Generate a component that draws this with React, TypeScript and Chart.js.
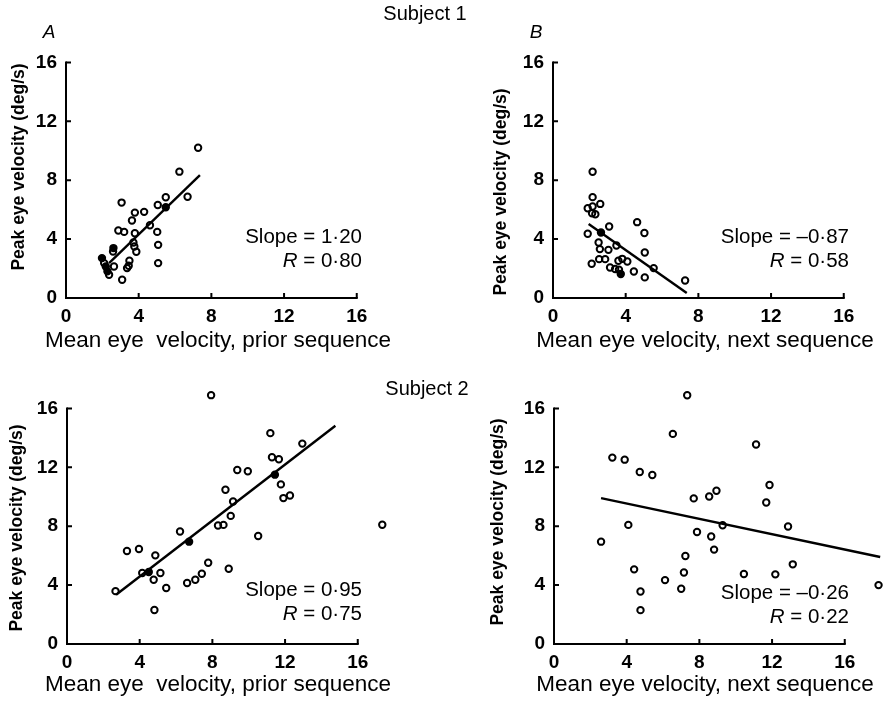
import React, { useEffect, useRef } from "react";
import { Chart, registerables } from "chart.js";

Chart.register(...registerables);

// ---------- data ----------
const AXIS_TICKS = [0, 4, 8, 12, 16];

// Panel A: Subject 1, prior sequence
const A_X = [7.27, 6.24, 6.69, 5.49, 5.05, 5.49, 3.06, 4.3, 3.79, 3.63, 4.62, 2.88, 3.2, 3.79, 5.02, 3.71, 5.07, 3.76, 3.87, 2.61, 2.59, 3.49, 1.98, 5.07, 3.36, 3.45, 2.19, 2.28, 2.37, 2.64, 3.09, 2.1];
const A_Y = [10.2, 8.58, 6.88, 6.84, 6.32, 6.16, 6.48, 5.85, 5.8, 5.26, 4.94, 4.58, 4.49, 4.4, 4.49, 3.77, 3.61, 3.5, 3.14, 3.39, 3.16, 2.53, 2.71, 2.37, 2.03, 2.19, 2.14, 1.81, 1.58, 2.14, 1.24, 2.37];
const A_FILLED = [5, 19, 22, 26, 27];
const A_LINE_X = [2.37, 7.37];
const A_LINE_Y = [2.37, 8.35];

// Panel B: Subject 1, next sequence
const B_X = [2.18, 2.18, 1.91, 2.18, 2.6, 2.15, 2.33, 1.91, 2.64, 3.09, 4.63, 5.03, 5.05, 2.51, 2.58, 3.05, 3.49, 2.13, 2.54, 2.87, 3.14, 3.42, 3.6, 3.81, 4.09, 3.63, 3.73, 4.45, 5.05, 5.54, 7.27];
const B_Y = [8.57, 6.85, 6.1, 6.21, 6.39, 5.76, 5.69, 4.36, 4.45, 4.86, 5.15, 4.41, 3.09, 3.77, 3.32, 3.27, 3.57, 2.33, 2.64, 2.64, 2.07, 1.97, 2.53, 2.66, 2.48, 1.92, 1.63, 1.8, 1.4, 2.03, 1.19];
const B_FILLED = [8, 26];
const B_LINE_X = [1.96, 7.36];
const B_LINE_Y = [5.02, 0.34];

// Panel C: Subject 2, prior sequence
const C_X = [2.67, 3.3, 3.96, 4.14, 4.5, 4.86, 4.77, 5.14, 4.81, 5.46, 6.61, 7.06, 7.42, 7.77, 6.22, 6.72, 8.9, 10.52, 8.31, 8.61, 9.01, 9.14, 8.72, 9.37, 9.95, 7.93, 11.19, 11.28, 11.66, 11.44, 11.77, 11.91, 12.27, 12.95, 17.35];
const C_Y = [3.59, 6.32, 6.45, 4.82, 4.89, 6.02, 4.36, 4.82, 2.31, 3.8, 4.14, 4.36, 4.77, 5.52, 7.64, 6.95, 5.11, 7.34, 8.05, 8.09, 8.7, 9.68, 10.48, 11.82, 11.73, 16.9, 14.32, 12.68, 12.55, 11.5, 10.84, 9.91, 10.09, 13.61, 8.1];
const C_FILLED = [4, 15, 29];
const C_LINE_X = [2.7, 14.77];
const C_LINE_Y = [3.34, 14.82];

// Panel D: Subject 2, next sequence
const D_X = [2.59, 3.21, 3.89, 4.09, 4.41, 4.72, 4.76, 4.76, 5.41, 6.11, 6.54, 7.33, 7.69, 7.87, 7.0, 7.15, 7.23, 8.54, 8.94, 8.65, 8.81, 9.28, 10.45, 11.12, 11.68, 11.86, 12.18, 12.88, 13.14, 17.86];
const D_Y = [6.95, 12.66, 12.52, 8.09, 5.07, 11.68, 3.57, 2.3, 11.48, 4.34, 14.27, 16.89, 9.89, 7.61, 3.75, 4.86, 5.98, 10.02, 10.41, 7.3, 6.41, 8.07, 4.75, 13.55, 9.61, 10.8, 4.73, 7.98, 5.41, 4.0];
const D_FILLED: number[] = [];
const D_LINE_X = [2.59, 17.95];
const D_LINE_Y = [9.91, 5.91];

const Y_TITLE = "Peak eye velocity (deg/s)";
const X_TITLE_PRIOR = "Mean eye  velocity, prior sequence";
const X_TITLE_NEXT = "Mean eye velocity, next sequence";

// ---------- layout constants ----------
const FONT = "'Liberation Sans', Arial, Helvetica, sans-serif";
const CW = 400;
const CH = 344;
const Y_AXIS_W = 66;
const X_AXIS_H = 46;
const PAD_TOP = 34;
const X_MAX = 18.05;
const Y_MAX = 17.93;

const axesPlugin = {
  id: "customAxes",
  beforeDatasetsDraw(chart: any) {
    const { ctx } = chart;
    const xs = chart.scales.x;
    const ys = chart.scales.y;
    const last = AXIS_TICKS[AXIS_TICKS.length - 1];
    const X0 = Math.round(xs.getPixelForValue(0));
    const XE = xs.getPixelForValue(last);
    const Y0 = Math.round(ys.getPixelForValue(0));
    const YE = ys.getPixelForValue(last);
    ctx.save();
    ctx.strokeStyle = "#000";
    ctx.lineWidth = 2;
    ctx.lineCap = "square";
    ctx.beginPath();
    ctx.moveTo(X0, YE);
    ctx.lineTo(X0, Y0);
    ctx.lineTo(XE, Y0);
    ctx.stroke();
    ctx.lineCap = "butt";
    ctx.beginPath();
    AXIS_TICKS.forEach((v) => {
      if (v === 0) return;
      const px = xs.getPixelForValue(v);
      ctx.moveTo(px, Y0);
      ctx.lineTo(px, Y0 - 5);
      const py = ys.getPixelForValue(v);
      ctx.moveTo(X0, py);
      ctx.lineTo(X0 + 5, py);
    });
    ctx.stroke();
    ctx.restore();
  },
};

type PanelProps = {
  left: number;
  top: number;
  xs: number[];
  ys: number[];
  filled: number[];
  lineX: number[];
  lineY: number[];
};

function Panel({ left, top, xs, ys, filled, lineX, lineY }: PanelProps) {
  const ref = useRef<HTMLCanvasElement>(null);
  useEffect(() => {
    if (!ref.current) return;
    const pts = xs.map((x, i) => ({ x, y: ys[i] }));
    const linePts = lineX.map((x, i) => ({ x, y: lineY[i] }));
    const bg = xs.map((_, i) => (filled.includes(i) ? "#000" : "rgba(0,0,0,0)"));
    const tickFont = { family: FONT, size: 19, weight: "bold" as const };
    const chart = new Chart(ref.current, {
      type: "scatter",
      data: {
        datasets: [
          {
            type: "line",
            data: linePts,
            borderColor: "#000",
            borderWidth: 2.4,
            pointRadius: 0,
            fill: false,
            clip: false as any,
            order: 2,
          } as any,
          {
            data: pts,
            pointRadius: 3.2,
            pointBorderWidth: 2,
            pointBorderColor: "#000",
            pointBackgroundColor: bg,
            clip: false as any,
            order: 1,
          },
        ],
      },
      options: {
        animation: false,
        responsive: false,
        devicePixelRatio: 1,
        layout: { padding: { top: PAD_TOP, left: 0, right: 0, bottom: 0 } },
        plugins: { legend: { display: false }, tooltip: { enabled: false } },
        scales: {
          x: {
            type: "linear",
            min: 0,
            max: X_MAX,
            grid: { display: false, drawTicks: false },
            border: { display: false },
            afterBuildTicks: (s: any) => {
              s.ticks = AXIS_TICKS.map((v) => ({ value: v }));
            },
            afterFit: (s: any) => {
              s.height = X_AXIS_H;
            },
            ticks: { padding: 7, color: "#000", font: tickFont, maxRotation: 0, autoSkip: false },
          },
          y: {
            type: "linear",
            min: 0,
            max: Y_MAX,
            grid: { display: false, drawTicks: false },
            border: { display: false },
            afterBuildTicks: (s: any) => {
              s.ticks = AXIS_TICKS.map((v) => ({ value: v }));
            },
            afterFit: (s: any) => {
              s.width = Y_AXIS_W;
            },
            ticks: { padding: 9, color: "#000", font: tickFont, autoSkip: false },
          },
        },
      },
      plugins: [axesPlugin],
    });
    return () => chart.destroy();
  }, []);
  return (
    <canvas
      ref={ref}
      width={CW}
      height={CH}
      style={{ position: "absolute", left, top, width: CW, height: CH }}
    />
  );
}

type TProps = {
  x: number;
  y: number; // baseline
  size: number;
  align?: "left" | "center" | "right";
  bold?: boolean;
  italic?: boolean;
  children: React.ReactNode;
  spacing?: number;
};

function T({ x, y, size, align = "left", bold, italic, children, spacing }: TProps) {
  const tx = align === "center" ? "-50%" : align === "right" ? "-100%" : "0";
  return (
    <div
      style={{
        position: "absolute",
        left: x,
        top: y - 0.8465 * size,
        fontFamily: FONT,
        fontSize: size,
        lineHeight: 1,
        fontWeight: bold ? "bold" : "normal",
        fontStyle: italic ? "italic" : "normal",
        whiteSpace: "pre",
        letterSpacing: spacing ?? 0,
        transform: `translateX(${tx})`,
        color: "#000",
      }}
    >
      {children}
    </div>
  );
}

function YTitle({ cx, cy }: { cx: number; cy: number }) {
  return (
    <div
      style={{
        position: "absolute",
        left: cx,
        top: cy,
        fontFamily: FONT,
        fontSize: 17.5,
        fontWeight: "bold",
        lineHeight: 1,
        whiteSpace: "pre",
        transform: "translate(-50%, -50%) rotate(-90deg)",
        color: "#000",
      }}
    >
      {Y_TITLE}
    </div>
  );
}

function Stats({ right, base, slope, r }: { right: number; base: number; slope: string; r: string }) {
  return (
    <>
      <T x={right} y={base} size={20.5} align="right">
        {"Slope = " + slope}
      </T>
      <T x={right} y={base + 24} size={20.5} align="right">
        <i>R</i>
        {" = " + r}
      </T>
    </>
  );
}

export default function App() {
  return (
    <div
      style={{
        position: "absolute",
        left: 0,
        top: 0,
        width: 889,
        height: 703,
        overflow: "hidden",
        background: "#fff",
      }}
    >
      <Panel left={0} top={0} xs={A_X} ys={A_Y} filled={A_FILLED} lineX={A_LINE_X} lineY={A_LINE_Y} />
      <Panel left={487} top={0} xs={B_X} ys={B_Y} filled={B_FILLED} lineX={B_LINE_X} lineY={B_LINE_Y} />
      <Panel left={1} top={346} xs={C_X} ys={C_Y} filled={C_FILLED} lineX={C_LINE_X} lineY={C_LINE_Y} />
      <Panel left={488} top={346} xs={D_X} ys={D_Y} filled={D_FILLED} lineX={D_LINE_X} lineY={D_LINE_Y} />

      <T x={425} y={20} size={20} align="center">Subject 1</T>
      <T x={427} y={395} size={20} align="center">Subject 2</T>
      <T x={49} y={38} size={19} align="center" italic>A</T>
      <T x={536} y={38} size={19} align="center" italic>B</T>

      <YTitle cx={19} cy={167} />
      <YTitle cx={501} cy={192} />
      <YTitle cx={17} cy={528} />
      <YTitle cx={498} cy={522} />

      <T x={218} y={348} size={22.5} align="center">{X_TITLE_PRIOR}</T>
      <T x={705} y={348} size={22.5} align="center">{X_TITLE_NEXT}</T>
      <T x={218} y={692} size={22.5} align="center">{X_TITLE_PRIOR}</T>
      <T x={705} y={692} size={22.5} align="center">{X_TITLE_NEXT}</T>

      <Stats right={362} base={243} slope={"1·20"} r={"0·80"} />
      <Stats right={849} base={243} slope={"–0·87"} r={"0·58"} />
      <Stats right={362} base={596} slope={"0·95"} r={"0·75"} />
      <Stats right={849} base={599} slope={"–0·26"} r={"0·22"} />
    </div>
  );
}
